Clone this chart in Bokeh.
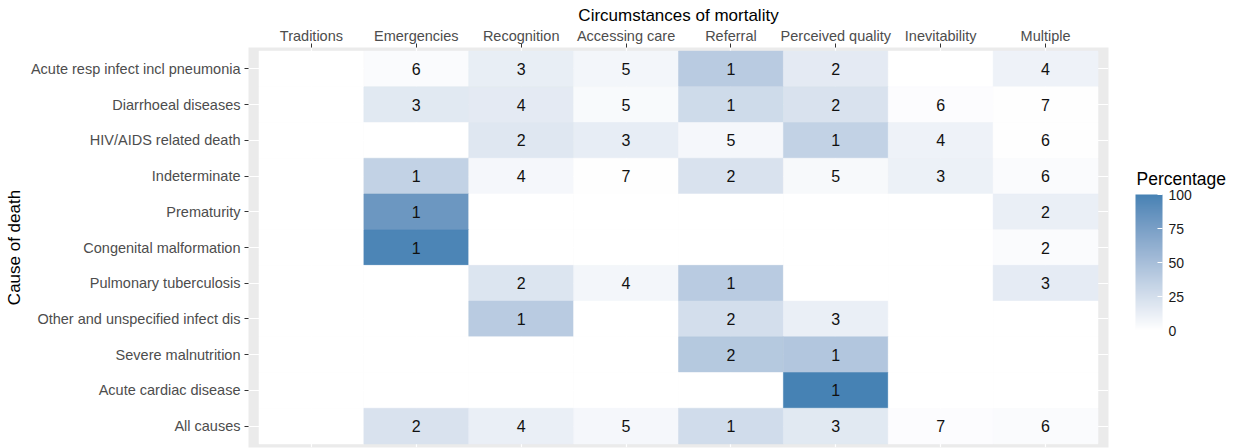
import numpy as np
from bokeh.plotting import figure
from bokeh.models import ColumnDataSource, FactorRange, LinearColorMapper, ColorBar, FixedTicker, Label
from bokeh.core.properties import value
from bokeh.embed import file_html
from bokeh.resources import INLINE

circumstances = ["Traditions", "Emergencies", "Recognition", "Accessing care",
                 "Referral", "Perceived quality", "Inevitability", "Multiple"]
causes = ["Acute resp infect incl pneumonia", "Diarrhoeal diseases", "HIV/AIDS related death",
          "Indeterminate", "Prematurity", "Congenital malformation", "Pulmonary tuberculosis",
          "Other and unspecified infect dis", "Severe malnutrition", "Acute cardiac disease",
          "All causes"]

percentage = [
    [0, 3, 13, 7, 40, 16, 0, 10],
    [0, 17, 16, 4, 28, 22, 2, 1],
    [0, 0, 18, 14, 6, 35, 10, 1],
    [0, 35, 6, 1, 22, 5, 11, 3],
    [0, 82, 0, 0, 0, 0, 0, 12],
    [0, 97, 0, 0, 0, 0, 0, 3],
    [0, 0, 20, 7, 40, 0, 0, 15],
    [0, 0, 40, 0, 25, 12, 0, 0],
    [0, 0, 0, 0, 42, 44, 0, 0],
    [0, 0, 0, 0, 0, 100, 0, 0],
    [0, 22, 12, 6, 27, 17, 2, 3],
]
# rank labels shown in the cells (None = no label)
rank = [
    [None, 6, 3, 5, 1, 2, None, 4],
    [None, 3, 4, 5, 1, 2, 6, 7],
    [None, None, 2, 3, 5, 1, 4, 6],
    [None, 1, 4, 7, 2, 5, 3, 6],
    [None, 1, None, None, None, None, None, 2],
    [None, 1, None, None, None, None, None, 2],
    [None, None, 2, 4, 1, None, None, 3],
    [None, None, 1, None, 2, 3, None, None],
    [None, None, None, None, 2, 1, None, None],
    [None, None, None, None, None, 1, None, None],
    [None, 2, 4, 5, 1, 3, 7, 6],
]
legend_ticks = [0, 25, 50, 75, 100]


# white -> steelblue gradient interpolated in CIE Lab (like ggplot2)
def _to_lab(hexc):
    rgb = np.array([int(hexc[i:i + 2], 16) for i in (1, 3, 5)]) / 255.0
    lin = np.where(rgb <= 0.04045, rgb / 12.92, ((rgb + 0.055) / 1.055) ** 2.4)
    M = np.array([[0.4124, 0.3576, 0.1805], [0.2126, 0.7152, 0.0722], [0.0193, 0.1192, 0.9505]])
    xyz = M @ lin / np.array([0.95047, 1.0, 1.08883])
    f = np.where(xyz > 0.008856, np.cbrt(xyz), 7.787 * xyz + 16 / 116)
    return np.array([116 * f[1] - 16, 500 * (f[0] - f[1]), 200 * (f[1] - f[2])])


def _from_lab(lab):
    fy = (lab[0] + 16) / 116
    fx = fy + lab[1] / 500
    fz = fy - lab[2] / 200
    f = np.array([fx, fy, fz])
    xyz = np.where(f ** 3 > 0.008856, f ** 3, (f - 16 / 116) / 7.787) * np.array([0.95047, 1.0, 1.08883])
    Minv = np.array([[3.2406, -1.5372, -0.4986], [-0.9689, 1.8758, 0.0415], [0.0557, -0.2040, 1.0570]])
    lin = np.clip(Minv @ xyz, 0, 1)
    rgb = np.where(lin <= 0.0031308, 12.92 * lin, 1.055 * lin ** (1 / 2.4) - 0.055)
    rgb = np.clip(np.round(rgb * 255), 0, 255).astype(int)
    return "#%02x%02x%02x" % tuple(rgb)


lo, hi = _to_lab("#FFFFFF"), _to_lab("#4682B4")
palette = [_from_lab(lo + (hi - lo) * t) for t in np.linspace(0, 1, 256)]
mapper = LinearColorMapper(palette=palette, low=0, high=100)

xs, ys, vals = [], [], []
lx, ly, lt = [], [], []
for i, cause in enumerate(causes):
    for j, circ in enumerate(circumstances):
        xs.append(circ)
        ys.append(cause)
        vals.append(percentage[i][j])
        if rank[i][j] is not None:
            lx.append(circ)
            ly.append(cause)
            lt.append(str(rank[i][j]))

tiles = ColumnDataSource(dict(x=xs, y=ys, pct=vals))
labels = ColumnDataSource(dict(x=lx, y=ly, text=lt))

FONT = "Liberation Sans"

p = figure(width=1234, height=448,
           x_range=FactorRange(factors=circumstances, range_padding=0.1, range_padding_units="absolute"),
           y_range=FactorRange(factors=causes[::-1], range_padding=0.1, range_padding_units="absolute"),
           x_axis_location="above", output_backend="svg", toolbar_location=None,
           min_border_left=248, min_border_right=126, min_border_top=47, min_border_bottom=1)

p.background_fill_color = "#EBEBEB"
p.border_fill_color = "white"
p.outline_line_color = None
p.grid.grid_line_color = "white"
p.grid.grid_line_width = 1.2

p.rect(x="x", y="y", width=1, height=1, source=tiles,
       fill_color={"field": "pct", "transform": mapper},
       line_color={"field": "pct", "transform": mapper}, line_width=0.5)
p.text(x="x", y="y", text="text", source=labels, text_align="center", text_baseline="middle",
       text_font=value(FONT), text_font_size="16px", text_color="#111111")

p.xaxis.axis_label = "Circumstances of mortality"
p.yaxis.axis_label = "Cause of death"
for ax in list(p.xaxis) + list(p.yaxis):
    ax.axis_line_color = None
    ax.major_tick_line_color = "#333333"
    ax.major_tick_out = 4
    ax.major_tick_in = 0
    ax.major_label_standoff = 4
    ax.major_label_text_font = FONT
    ax.major_label_text_font_size = "14.5px"
    ax.major_label_text_color = "#4D4D4D"
    ax.axis_label_text_font = FONT
    ax.axis_label_text_font_size = "17px"
    ax.axis_label_text_font_style = "normal"
    ax.axis_label_text_color = "black"
    ax.axis_label_standoff = 4
p.xaxis.major_label_standoff = 0
p.xaxis.axis_label_standoff = 0

cb = ColorBar(color_mapper=mapper, ticker=FixedTicker(ticks=legend_ticks),
              width=27, height=136,
              major_label_text_font=FONT, major_label_text_font_size="14px",
              major_label_text_color="#1A1A1A", label_standoff=6,
              major_tick_line_color="white", major_tick_in=5, major_tick_out=0,
              minor_tick_line_color=None, bar_line_color=None, border_line_color=None,
              background_fill_color=None, padding=0, margin=0, location=(887, 117))
p.add_layout(cb, "center")

p.add_layout(Label(x=1136, y=178, x_units="canvas", y_units="canvas", text="Percentage",
                   text_font=FONT, text_font_size="17.5px", text_color="black",
                   text_baseline="alphabetic", text_align="left"), "right")

open("out.html", "w").write(file_html(p, INLINE))
